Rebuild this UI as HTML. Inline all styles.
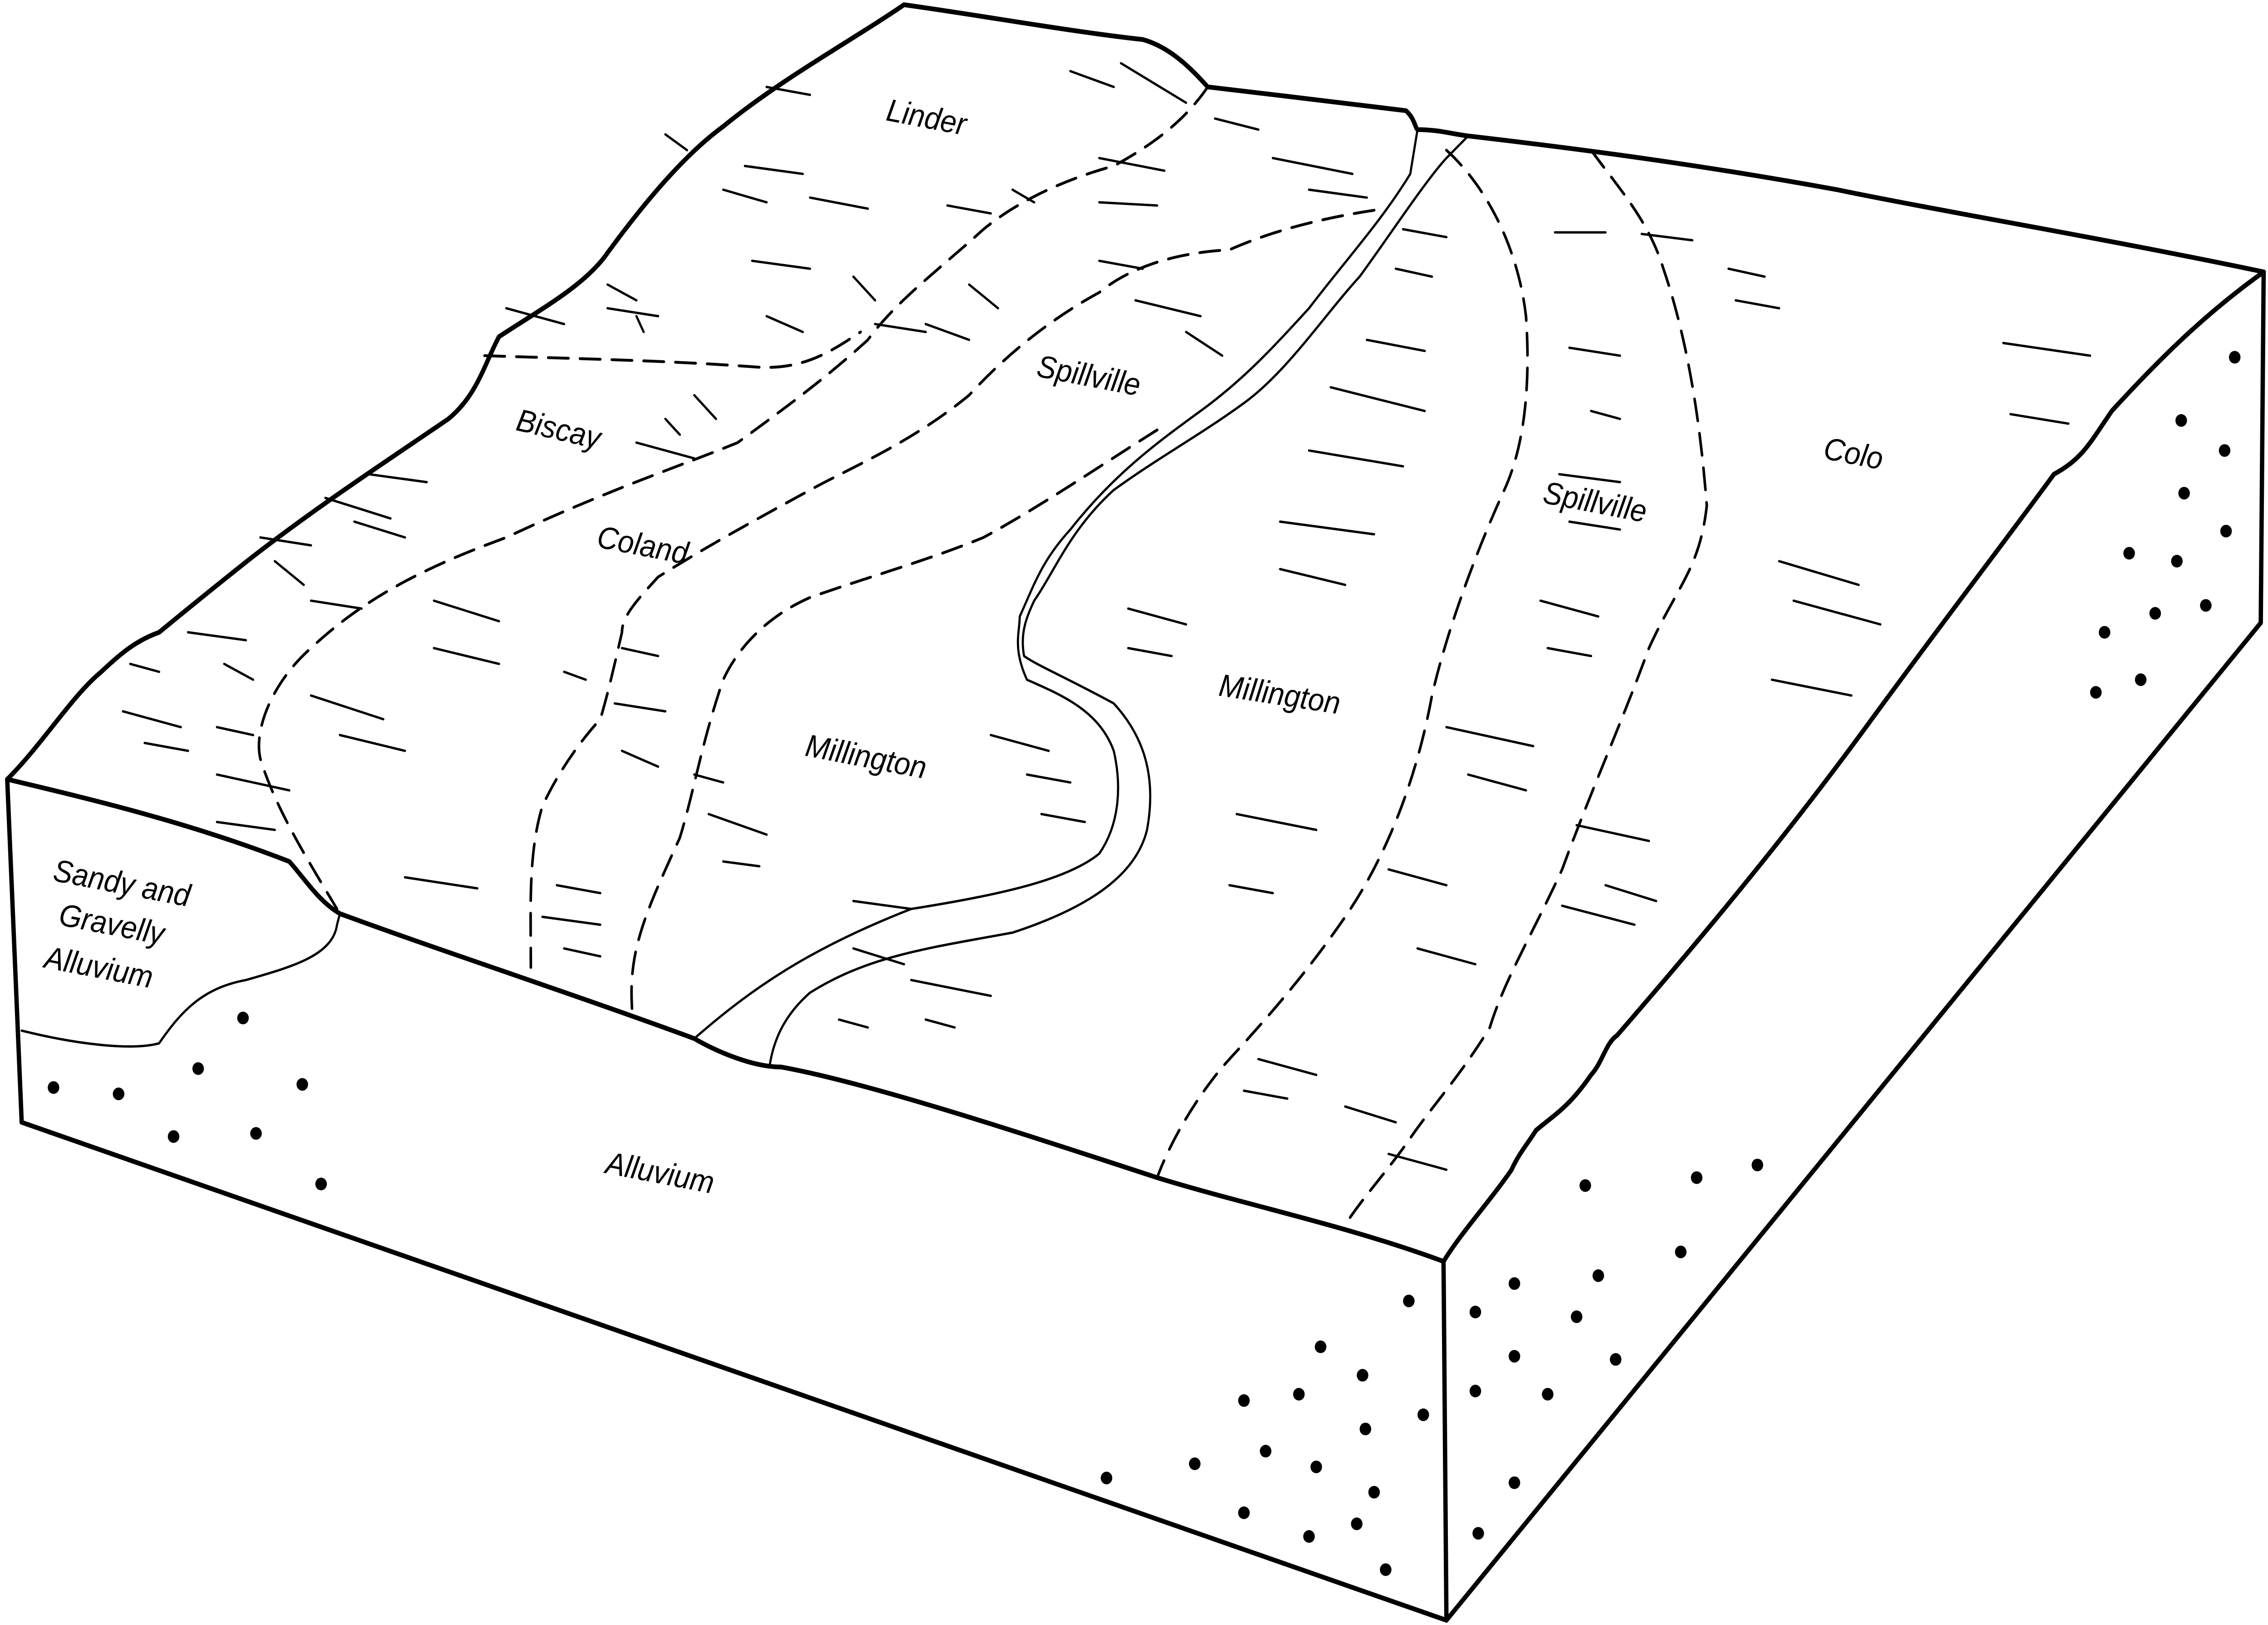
<!DOCTYPE html>
<html><head><meta charset="utf-8"><style>
html,body{margin:0;padding:0;background:#fff;width:100%;height:100%;overflow:hidden}
svg{display:block;position:fixed;left:0;top:0;width:100vw;height:100vh}
text{font-family:"Liberation Sans",sans-serif;font-style:italic;font-size:20px;fill:#000}
</style></head><body>
<svg viewBox="0 0 1568 1028" preserveAspectRatio="none" xmlns="http://www.w3.org/2000/svg">
<g fill="none" stroke="#000" stroke-linejoin="round" stroke-linecap="round">
<g stroke-width="3">
<path d="M5,493 C30,470 50,440 70,425 C85,412 95,405 110,400 C130,385 150,370 175,352 C220,320 270,290 310,265 C330,250 335,230 345,213 C375,195 405,180 420,160 C440,135 470,100 500,80 C540,50 590,25 625,3 C680,10 740,20 790,25 C810,30 825,45 835,55 C880,60 930,65 972,70 C978,75 978,80 980,82 C995,82 1005,85 1015,86 C1100,95 1180,105 1270,120 C1350,135 1450,150 1565,172"/>
<path d="M1565,172 L1563,394 L1000,1025 L15,710 L5,493"/>
<path d="M998,798 L1000,1025"/>
<path d="M5,493 C60,505 130,520 200,545 C210,555 220,570 235,578 C300,600 400,630 480,657 C495,665 520,675 540,675 C600,685 700,715 800,745 C860,762 930,775 998,798"/>
<path d="M998,798 C1010,780 1030,760 1045,740 C1050,730 1055,725 1062,715 C1075,705 1085,700 1100,680 C1108,672 1110,660 1118,655 C1170,600 1230,535 1290,460 C1350,385 1380,350 1420,300 C1440,290 1445,280 1460,260 C1500,220 1530,195 1565,172"/>
</g>
<g stroke-width="1.5">
<path d="M15,652 C50,660 90,665 110,660 C125,640 140,625 170,620 C200,612 230,605 233,585 L235,578"/>
<path d="M480,657 C520,625 560,600 630,575 C700,565 740,555 760,540 C775,520 775,495 770,475 C760,450 735,440 710,430 C700,410 705,400 705,390 C715,370 720,355 740,335 C770,300 800,280 830,260 C860,240 880,220 905,195 C930,165 955,140 975,110 L980,82"/>
<path d="M532,675 C535,655 545,640 560,628 C600,605 640,600 700,590 C750,575 785,555 793,525 C800,490 790,465 770,445 C740,430 715,420 708,415 C705,400 710,390 715,380 C730,360 740,335 770,310 C800,290 830,275 860,255 C890,235 915,200 940,175 C960,150 985,115 1000,100 L1015,86"/>
</g>
<g stroke-width="1.8" stroke-dasharray="14,8">
<path d="M835,55 C820,75 800,90 770,105 C730,115 700,130 680,145 C650,170 620,190 600,215 C570,240 540,260 510,280 C470,295 420,310 350,340 C290,360 250,380 215,410 C190,430 175,460 180,480 C190,510 210,540 233,575"/>
<path d="M335,225 C400,227 460,228 520,232 C555,235 575,222 595,210"/>
<path d="M950,133 C900,140 870,150 850,158 C810,160 780,170 760,185 C720,205 690,230 670,250 C630,280 590,295 560,310 C520,330 490,345 455,365 C440,380 430,390 430,400 C425,420 420,440 415,455 C400,470 385,490 375,510 C365,540 367,575 367,612"/>
<path d="M800,272 C760,295 720,320 680,340 C640,355 600,365 560,378 C530,390 510,410 500,430 C485,470 480,500 470,530 C455,560 445,580 440,600 C435,620 437,635 437,640"/>
<path d="M1000,95 C1030,120 1050,160 1055,200 C1058,240 1055,280 1040,310 C1020,350 1000,400 990,440 C980,490 960,540 930,580 C900,620 870,650 850,670 C830,690 810,720 800,745"/>
<path d="M1100,95 C1120,120 1140,140 1150,170 C1165,210 1175,260 1180,320 C1175,360 1160,370 1140,410 C1120,460 1100,500 1080,550 C1060,590 1040,620 1030,650 C1010,680 990,700 975,720 C960,740 940,760 930,775"/>
</g>
<g stroke-width="1.5">
<path d="M500,120 L530,128 M515,105 L555,110 M560,125 L600,132 M655,130 L685,135 M700,120 L715,128 M740,45 L770,55 M775,40 L820,65 M760,100 L805,108 M760,128 L800,130 M590,175 L605,190 M640,205 L670,215 M670,180 L690,195 M760,165 L790,170 M785,190 L830,200 M820,210 L845,225 M880,100 L935,110 M905,120 L945,125 M840,75 L870,82 M970,145 L1000,150 M965,170 L990,175 M945,215 L985,222 M920,245 L985,260 M905,285 L970,295 M885,330 L950,338 M885,360 L930,370 M780,385 L820,395 M780,410 L810,415 M1075,147 L1110,147 M1135,148 L1170,152 M1085,220 L1120,225 M1100,260 L1120,265 M1195,170 L1220,175 M1200,190 L1230,195 M1385,217 L1445,225 M1390,262 L1430,268 M1078,300 L1120,305 M1085,330 L1120,335 M1230,355 L1285,370 M1240,380 L1300,395 M1225,430 L1280,440 M1065,380 L1105,390 M1070,410 L1100,415 M1000,460 L1060,472 M1015,490 L1055,500 M1080,573 L1130,585 M1110,560 L1145,570 M1090,522 L1140,532 M960,550 L1000,560 M980,600 L1020,610 M855,515 L910,525 M850,560 L880,565 M870,670 L910,680 M860,690 L890,695 M960,730 L1000,740 M930,700 L965,710 M720,515 L750,520 M685,465 L725,475 M710,490 L740,495 M630,620 L685,630 M640,645 L660,650 M580,645 L600,650 M590,600 L625,610 M590,570 L630,575 M500,545 L525,548 M490,515 L530,528 M480,490 L500,495 M430,475 L455,485 M425,445 L460,450 M430,410 L455,415 M390,425 L405,430 M385,560 L415,565 M375,580 L415,585 M390,600 L415,605 M280,555 L330,562 M300,380 L345,393 M255,300 L295,305 M245,330 L280,340 M225,315 L270,328 M215,380 L250,385 M300,410 L345,420 M215,440 L265,455 M235,465 L280,475 M180,340 L215,345 M190,355 L210,370 M130,400 L170,405 M155,420 L175,430 M90,420 L110,425 M85,450 L125,460 M100,470 L130,475 M150,460 L175,465 M150,490 L200,500 M150,520 L190,525 M440,280 L480,290 M460,265 L470,275 M480,250 L495,265 M420,195 L455,200 M420,180 L440,190 M440,200 L445,210 M350,195 L390,205 M530,200 L555,210 M460,85 L475,95 M530,55 L560,60 M520,165 L560,170 M605,205 L640,210"/>
</g>
</g>
<g fill="#000">
<circle cx="37" cy="688" r="4"/><circle cx="82" cy="692" r="4"/><circle cx="137" cy="676" r="4"/><circle cx="168" cy="644" r="4"/><circle cx="209" cy="686" r="4"/><circle cx="120" cy="719" r="4"/><circle cx="177" cy="717" r="4"/><circle cx="222" cy="749" r="4"/>
<circle cx="765" cy="935" r="4"/><circle cx="826" cy="926" r="4"/><circle cx="860" cy="886" r="4"/><circle cx="875" cy="918" r="4"/><circle cx="860" cy="957" r="4"/><circle cx="898" cy="882" r="4"/><circle cx="913" cy="852" r="4"/><circle cx="942" cy="870" r="4"/><circle cx="944" cy="904" r="4"/><circle cx="910" cy="928" r="4"/><circle cx="950" cy="944" r="4"/><circle cx="905" cy="972" r="4"/><circle cx="938" cy="964" r="4"/><circle cx="958" cy="993" r="4"/><circle cx="974" cy="823" r="4"/><circle cx="984" cy="895" r="4"/>
<circle cx="1020" cy="830" r="4"/><circle cx="1047" cy="812" r="4"/><circle cx="1047" cy="858" r="4"/><circle cx="1020" cy="880" r="4"/><circle cx="1070" cy="882" r="4"/><circle cx="1090" cy="833" r="4"/><circle cx="1105" cy="807" r="4"/><circle cx="1117" cy="860" r="4"/><circle cx="1162" cy="792" r="4"/><circle cx="1096" cy="750" r="4"/><circle cx="1173" cy="745" r="4"/><circle cx="1215" cy="737" r="4"/><circle cx="1047" cy="938" r="4"/><circle cx="1022" cy="970" r="4"/>
<circle cx="1545" cy="226" r="4"/><circle cx="1508" cy="266" r="4"/><circle cx="1538" cy="285" r="4"/><circle cx="1510" cy="312" r="4"/><circle cx="1539" cy="336" r="4"/><circle cx="1472" cy="350" r="4"/><circle cx="1505" cy="355" r="4"/><circle cx="1525" cy="383" r="4"/><circle cx="1490" cy="388" r="4"/><circle cx="1455" cy="400" r="4"/><circle cx="1480" cy="430" r="4"/><circle cx="1449" cy="438" r="4"/>
</g>
<text x="612" y="76" transform="rotate(10 612 76)">Linder</text>
<text x="356" y="272" transform="rotate(12 356 272)">Biscay</text>
<text x="412" y="346" transform="rotate(10 412 346)">Coland</text>
<text x="716" y="238" transform="rotate(10 716 238)">Spillville</text>
<text x="1066" y="318" transform="rotate(10 1066 318)">Spillville</text>
<text x="1260" y="290" transform="rotate(10 1260 290)">Colo</text>
<text x="556" y="478" transform="rotate(10 556 478)">Millington</text>
<text x="842" y="440" transform="rotate(8 842 440)">Millington</text>
<text x="418" y="742" transform="rotate(10 418 742)">Alluvium</text>
<text x="36" y="557" transform="rotate(10 36 557)">Sandy and</text>
<text x="40" y="585" transform="rotate(10 40 585)">Gravelly</text>
<text x="30" y="612" transform="rotate(10 30 612)">Alluvium</text>
</svg>
</body></html>
